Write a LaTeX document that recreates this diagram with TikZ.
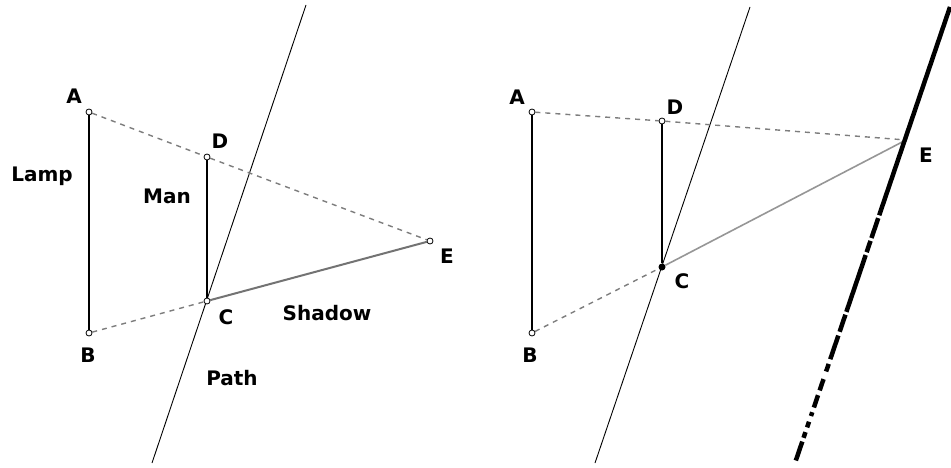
\documentclass[tikz,border=0pt]{standalone}
\usepackage{fontspec}
\setmainfont{DejaVu Sans}
\usetikzlibrary{backgrounds}
\definecolor{raygray}{RGB}{125,125,125}
\definecolor{shadegray}{RGB}{115,115,115}
\definecolor{shadelight}{RGB}{150,150,150}
\tikzset{
  dot/.style    = {circle,draw=black,fill=white,inner sep=0pt,
                   minimum size=6pt,line width=0.8pt},
  fdot/.style   = {circle,fill=black,inner sep=0pt,minimum size=7pt},
  lbl/.style    = {font=\fontsize{20}{24}\selectfont\bfseries,inner sep=0pt},
  pole/.style   = {line width=2.6pt,black},
  sight/.style  = {line width=1.4pt,raygray,dash pattern=on 5pt off 5pt},
  shade/.style  = {line width=2pt,shadegray},
  track/.style  = {line width=0.9pt,black},
  rail/.style   = {line width=4.5pt,black,
                   dash pattern=on 220pt off 3pt on 21pt off 3pt on 12pt off 3pt
                   on 60pt off 3pt on 18pt off 4pt on 25pt off 5pt on 8pt off 8pt
                   on 12pt off 5pt on 13pt off 5pt on 4pt off 6pt on 6pt off 5pt
                   on 6pt off 4pt on 20pt off 3pt},
}
\begin{document}
\begin{tikzpicture}[x=1pt,y=-1pt]
  \useasboundingbox (0,0) rectangle (951,468);
  % left: lamp, man and shadow
  \node[dot] (A) at (89,112) {};
  \node[dot] (B) at (89,333) {};
  \node[dot] (D) at (207,157) {};
  \node[dot] (C) at (207,301) {};
  \node[dot] (E) at (430,241) {};
  \coordinate (pathtop) at (306,5);
  \coordinate (pathbot) at (152,463);
  \node[lbl] (labA) at (74,96) {A};
  \node[lbl] (labB) at (88,355) {B};
  \node[lbl] (labC) at (226,317) {C};
  \node[lbl] (labD) at (220,141) {D};
  \node[lbl] (labE) at (447,256) {E};
  \node[lbl] (lamp) at (42,176) {Lamp};
  \node[lbl] (man) at (167,196) {Man};
  \node[lbl] (shadow) at (327,313) {Shadow};
  \node[lbl] (walk) at (232,378) {Path};
  \begin{scope}[on background layer]
    \draw[track] (pathtop) -- (pathbot);
    \draw[pole] (A) -- (B);
    \draw[pole] (D) -- (C);
    \draw[sight] (A) -- (D) -- (E);
    \draw[sight] (B) -- (C);
    \draw[shade] (C) -- (E);
  \end{scope}
  % right: the shadow tip runs along a second line
  \node[dot] (A2) at (532,112) {};
  \node[dot] (B2) at (532,333) {};
  \node[dot] (D2) at (662,121) {};
  \node[fdot] (C2) at (662,267) {};
  \coordinate (E2) at (906,140);
  \coordinate (pathtop2) at (750,7);
  \coordinate (pathbot2) at (595,463);
  \coordinate (tiptop) at (950,7);
  \coordinate (tipbot) at (795,463);
  \node[lbl] (labA2) at (517,97) {A};
  \node[lbl] (labB2) at (530,355) {B};
  \node[lbl] (labC2) at (682,281) {C};
  \node[lbl] (labD2) at (675,107) {D};
  \node[lbl] (labE2) at (926,155) {E};
  \begin{scope}[on background layer]
    \draw[track] (pathtop2) -- (pathbot2);
    \draw[pole] (A2) -- (B2);
    \draw[pole] (D2) -- (C2);
    \draw[sight] (A2) -- (D2) -- (E2);
    \draw[sight] (B2) -- (C2);
    \draw[shade,shadelight,line width=1.6pt] (C2) -- (E2);
  \end{scope}
  \draw[rail] (tiptop) -- (tipbot);
\end{tikzpicture}
\end{document}
